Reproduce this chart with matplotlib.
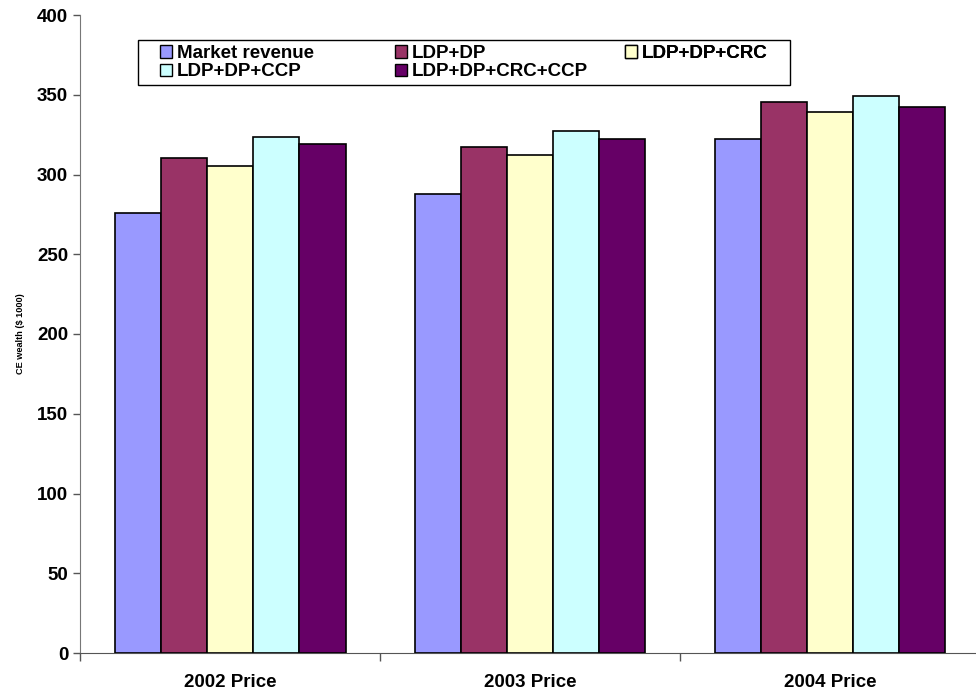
import matplotlib.pyplot as plt
import matplotlib.patches as mpatches
import numpy as np

plt.rcParams['font.family'] = ['Liberation Sans', 'DejaVu Sans']

categories = ['2002 Price', '2003 Price', '2004 Price']
series_names = ['Market revenue', 'LDP+DP', 'LDP+DP+CRC', 'LDP+DP+CCP', 'LDP+DP+CRC+CCP']
market_revenue = [276, 287.5, 322.5]
ldp_dp = [310.5, 317.5, 345.5]
ldp_dp_crc = [305.5, 312, 339]
ldp_dp_ccp = [323.5, 327.5, 349]
ldp_dp_crc_ccp = [319, 322.5, 342.5]
colors = ['#9999FF', '#993366', '#FFFFCC', '#CCFFFF', '#660066']

values = [market_revenue, ldp_dp, ldp_dp_crc, ldp_dp_ccp, ldp_dp_crc_ccp]

W, H = 976, 696
fig = plt.figure(figsize=(W/100, H/100), dpi=100)
ax = fig.add_axes([80/W, 43/H, 900/W, 638/H])

x = np.arange(len(categories))
w = 0.154
bars = []
for i, (vals, c) in enumerate(zip(values, colors)):
    b = ax.bar(x + (i - 2) * w, vals, w, color=c, edgecolor='black', linewidth=1.2,
               label=series_names[i], zorder=3)
    bars.append(b)

ax.set_xlim(-0.5, 2.5)
ax.set_ylim(0, 400)
ax.set_yticks(np.arange(0, 401, 50))
ax.tick_params(axis='y', labelsize=13.5, length=5, width=1, color='#555555')
for lab in ax.get_yticklabels():
    lab.set_fontweight('bold')

ax.set_xticks(x)
ax.set_xticklabels(categories, fontsize=13.5, fontweight='bold')
ax.tick_params(axis='x', length=0, pad=15)
ax.set_xticks([-0.5, 0.5, 1.5], minor=True)
ax.tick_params(axis='x', which='minor', length=6, width=1, color='#555555')

ax.set_ylabel('CE wealth ($ 1000)', fontsize=6.6, fontweight='bold', labelpad=9)

for s in ['top', 'right']:
    ax.spines[s].set_visible(False)
ax.spines['left'].set_color('#777777')
ax.spines['bottom'].set_color('#555555')

# legend frame drawn by hand, columns placed as in the original
def fx(px):
    return (px - 80) / 900

def fy(py):
    return (653 - py) / 638

frame = mpatches.Rectangle((fx(138), fy(85)), fx(790) - fx(138), fy(40) - fy(85),
                           transform=ax.transAxes, facecolor='white', edgecolor='black',
                           linewidth=1.0, zorder=5)
ax.add_patch(frame)

columns = [[0, 3], [1, 4], [2]]
col_x = [160, 395, 625]
for col, cx in zip(columns, col_x):
    leg = ax.legend([bars[i] for i in col], [series_names[i] for i in col],
                    loc='upper left', bbox_to_anchor=(fx(cx), fy(45)),
                    frameon=False, prop={'weight': 'bold', 'size': 13.5},
                    handlelength=0.65, handleheight=0.65, handletextpad=0.25,
                    borderpad=0, labelspacing=0.08, borderaxespad=0)
    leg.set_zorder(6)
    for h in leg.legend_handles:
        h.set_linewidth(1.0)
    ax.add_artist(leg)

fig.savefig('out.png', dpi=100)
